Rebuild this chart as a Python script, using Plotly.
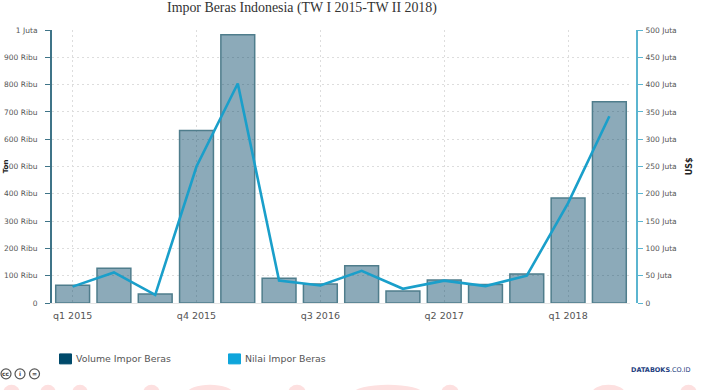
import plotly.graph_objects as go

quarters = ["q1 2015", "q2 2015", "q3 2015", "q4 2015", "q1 2016", "q2 2016", "q3 2016",
            "q4 2016", "q1 2017", "q2 2017", "q3 2017", "q4 2017", "q1 2018", "q2 2018"]
volume = [65000, 127000, 33000, 632000, 983000, 91000, 70000,
          136000, 44000, 84000, 68000, 106000, 385000, 737000]
nilai = [30e6, 56e6, 15e6, 250e6, 402e6, 41e6, 32e6,
         59e6, 26e6, 41e6, 31e6, 50e6, 183e6, 342e6]
x_ticks = ["q1 2015", "q4 2015", "q3 2016", "q2 2017", "q1 2018"]
left_vals = [0, 1e5, 2e5, 3e5, 4e5, 5e5, 6e5, 7e5, 8e5, 9e5, 1e6]
left_text = ["0", "100 Ribu", "200 Ribu", "300 Ribu", "400 Ribu", "500 Ribu",
             "600 Ribu", "700 Ribu", "800 Ribu", "900 Ribu", "1 Juta"]
right_vals = [0, 50e6, 100e6, 150e6, 200e6, 250e6, 300e6, 350e6, 400e6, 450e6, 500e6]
right_text = ["0", "50 Juta", "100 Juta", "150 Juta", "200 Juta", "250 Juta",
              "300 Juta", "350 Juta", "400 Juta", "450 Juta", "500 Juta"]

W, H = 718, 390
L, R_AX, PR, T, B = 52, 637, 630, 29.5, 303
TICK_FONT = dict(family="DejaVu Sans", size=7.5, color="#555555")

fig = go.Figure()
fig.add_bar(x=quarters, y=volume, name="Volume Impor Beras", yaxis="y", width=0.82,
            marker=dict(color="rgba(0,67,99,0.45)", line=dict(color="#4f7d8c", width=1.5)),
            showlegend=False)
fig.add_scatter(x=quarters, y=nilai, name="Nilai Impor Beras", yaxis="y2", mode="lines",
                line=dict(color="#1a9fca", width=2.6), showlegend=False)

fig.update_layout(
    width=W, height=H, autosize=False,
    margin=dict(l=L, r=W - R_AX, t=T, b=H - B, pad=0, autoexpand=False),
    paper_bgcolor="white", plot_bgcolor="white",
    font=dict(family="DejaVu Sans"),
    xaxis=dict(domain=[0, (PR - L) / (R_AX - L)], type="category", categoryorder="array",
               categoryarray=quarters, range=[-0.5, 13.5],
               tickmode="array", tickvals=x_ticks, ticktext=x_ticks,
               showgrid=True, gridcolor="#dddddd", griddash="2px,3px", gridwidth=1,
               showline=True, linecolor="#e6e6e6", ticks="", ticklabelstandoff=4,
               tickfont=dict(family="DejaVu Sans", size=9.5, color="#555555")),
    yaxis=dict(range=[0, 1e6], tickmode="array", tickvals=left_vals, ticktext=left_text,
               showgrid=True, gridcolor="#dddddd", griddash="2px,3px", gridwidth=1, zeroline=False,
               showline=True, linecolor="#3f7488", linewidth=2,
               ticks="outside", ticklen=5, tickcolor="#3f7488", tickwidth=1,
               ticklabelstandoff=6, tickfont=TICK_FONT),
    yaxis2=dict(range=[0, 5e8], overlaying="y", anchor="free", position=1, side="right",
                tickmode="array", tickvals=right_vals, ticktext=right_text,
                showgrid=False, zeroline=False,
                showline=True, linecolor="#5bb5d0", linewidth=2,
                ticks="outside", ticklen=5, tickcolor="#5bb5d0", tickwidth=1,
                ticklabelstandoff=1, tickfont=TICK_FONT),
    bargap=0.18,
)

def fx(x):
    return (x - L) / (R_AX - L)

def fy(y):
    return (B - y) / (B - T)

def note(x, y, text, **kw):
    fig.add_annotation(xref="paper", yref="paper", x=fx(x), y=fy(y),
                       text=text, showarrow=False, **kw)

note(302, 7, "Impor Beras Indonesia (TW I 2015-TW II 2018)", xanchor="center", yanchor="middle",
     font=dict(family="Liberation Serif", size=13.9, color="#333333"))
note(6, 166, "<b>Ton</b>", textangle=-90, xanchor="center", yanchor="middle",
     font=dict(family="DejaVu Sans", size=7, color="#222222"))
note(689, 166, "<b>US$</b>", textangle=-90, xanchor="center", yanchor="middle",
     font=dict(family="DejaVu Sans", size=8, color="#222222"))
note(74, 359, "Volume Impor Beras", xanchor="left", yanchor="middle",
     font=dict(family="DejaVu Sans", size=9.4, color="#555555"))
note(243, 359, "Nilai Impor Beras", xanchor="left", yanchor="middle",
     font=dict(family="DejaVu Sans", size=9.4, color="#555555"))
note(629, 370.5, "<b>DATABOKS</b>", xanchor="left", yanchor="middle",
     font=dict(family="DejaVu Sans", size=6.5, color="#23407f"))
note(668, 370.5, ".CO.ID", xanchor="left", yanchor="middle",
     font=dict(family="DejaVu Sans", size=6.5, color="#23407f"))

def rect(x0, y0, x1, y1, fill):
    fig.add_shape(type="rect", xref="paper", yref="paper",
                  x0=fx(x0), x1=fx(x1), y0=fy(y0), y1=fy(y1),
                  fillcolor=fill, line=dict(color=fill, width=1))

rect(59.5, 354, 71.5, 364, "#004a6b")
rect(228.5, 354, 240.5, 364, "#0ea5db")

for cx, glyph in ((6, "cc"), (20, "i"), (34.5, "=")):
    fig.add_shape(type="circle", xref="paper", yref="paper",
                  x0=fx(cx - 5), x1=fx(cx + 5), y0=fy(379), y1=fy(369),
                  fillcolor="white", line=dict(color="#555555", width=1.2))
    note(cx, 374, "<b>" + glyph + "</b>", xanchor="center", yanchor="middle",
         font=dict(family="DejaVu Sans", size=6, color="#444444"))

# pink watermark arcs along the bottom edge of the screenshot
for x0, x1 in ((3, 20), (40, 56), (72, 88), (143, 160), (187, 233), (288, 306),
               (353, 423), (441, 459), (592, 625), (680, 697)):
    fig.add_shape(type="circle", xref="paper", yref="paper",
                  x0=fx(x0), x1=fx(x1), y0=fy(402), y1=fy(385),
                  fillcolor="#fde0e0", line=dict(width=0), layer="below")

fig.write_html("out.html", config={"displayModeBar": False},
               post_script="document.body.style.margin='0';")
